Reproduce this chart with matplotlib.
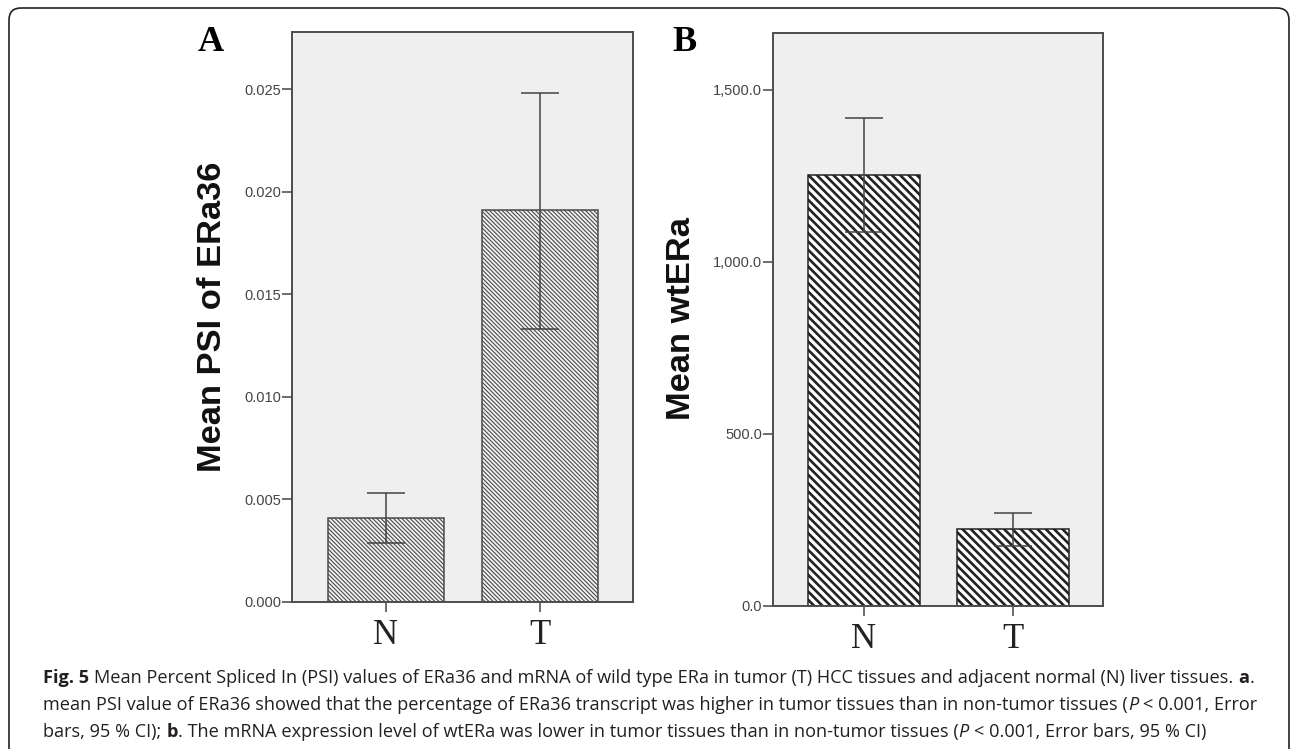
import matplotlib as mpl
import matplotlib.pyplot as plt
from matplotlib import font_manager
from matplotlib.patches import FancyBboxPatch
from matplotlib.transforms import IdentityTransform

# data
groups = ['N', 'T']
psi_mean = [0.0041, 0.0191]
psi_low = [0.00285, 0.0133]
psi_high = [0.0053, 0.0248]
wt_mean = [1252, 222]
wt_low = [1087, 174]
wt_high = [1418, 270]
psi_ticks = [0.000, 0.005, 0.010, 0.015, 0.020, 0.025]
wt_ticks = [0, 500, 1000, 1500]

W, H = 1290, 749
fig = plt.figure(figsize=(W / 100, H / 100), dpi=100)

names = {f.name for f in font_manager.fontManager.ttflist}
tick_font = 'Liberation Sans Narrow' if 'Liberation Sans Narrow' in names else 'Liberation Sans'


def fx(x):
    return x / W


def fy(y):
    return 1 - y / H


def panel(rect, means, low, high, ymax, ticks, fmt, hatch, hatch_lw, edge, face):
    mpl.rcParams['hatch.linewidth'] = hatch_lw
    ax = fig.add_axes(rect)
    ax.set_facecolor('#efefef')
    x = list(range(len(groups)))
    bars = ax.bar(x, means, width=0.754, facecolor=face, edgecolor=edge,
                  linewidth=1.1, hatch=hatch, zorder=2)
    for b in bars:
        if hasattr(b, 'set_hatch_linewidth'):
            b.set_hatch_linewidth(hatch_lw)
    yerr = [[m - l for m, l in zip(means, low)], [h - m for m, h in zip(means, high)]]
    ax.errorbar(x, means, yerr=yerr, fmt='none', ecolor='#444444',
                elinewidth=1.1, capsize=13.5, capthick=1.1, zorder=3)
    ax.set_xlim(-0.607, 1.607)
    ax.set_ylim(0, ymax)
    ax.set_yticks(ticks)
    ax.set_yticklabels([fmt(t) for t in ticks], fontfamily=tick_font,
                       fontsize=10.5, color='#444444')
    ax.set_xticks(x)
    ax.set_xticklabels(groups, fontfamily='Liberation Serif', fontsize=25,
                       color='#222222')
    ax.tick_params(axis='y', direction='out', length=7.2, width=1.1,
                   color='#444444', pad=1)
    ax.tick_params(axis='x', direction='out', length=7.2, width=1.1,
                   color='#444444', pad=5.6)
    for s in ax.spines.values():
        s.set_color('#4d4d4d')
        s.set_linewidth(1.4)
    return ax


axA = panel([fx(292.3), fy(601.7), fx(633 - 292.3), (601.7 - 32.3) / H],
            psi_mean, psi_low, psi_high, 0.02778, psi_ticks,
            lambda v: '%.3f' % v, '\\' * 8, 0.8, '#4a4a4a', '#f2f2f2')
axB = panel([fx(773.3), fy(605.7), fx(1103.3 - 773.3), (605.7 - 33.3) / H],
            wt_mean, wt_low, wt_high, 1664, wt_ticks,
            lambda v: '{:,.1f}'.format(v), '\\' * 4, 1.9, '#222222', 'white')

# axis titles and panel letters
fig.text(fx(212.5), fy(317), 'Mean PSI of ERa36', rotation=90, ha='center',
         va='center', fontfamily='Liberation Sans', fontweight='bold',
         fontsize=24.8, color='#111111')
fig.text(fx(682), fy(318.5), 'Mean wtERa', rotation=90, ha='center',
         va='center', fontfamily='Liberation Sans', fontweight='bold',
         fontsize=24.8, color='#111111')
fig.text(fx(210.5), fy(51), 'A', ha='center', va='baseline',
         fontfamily='Liberation Serif', fontweight='bold', fontsize=26)
fig.text(fx(684.5), fy(51), 'B', ha='center', va='baseline',
         fontfamily='Liberation Serif', fontweight='bold', fontsize=26)

# rounded border around the figure
border = FancyBboxPatch((9, -12), 1280, 753,
                        boxstyle='round,pad=0,rounding_size=12',
                        transform=IdentityTransform(), fill=False,
                        edgecolor='#222222', linewidth=1.2)
fig.add_artist(border)

# caption with mixed styles
cap_size = 13.05
cap_color = '#231f20'
renderer = fig.canvas.get_renderer()


def text_w(s, **kw):
    t = fig.text(0, 0, s, fontfamily='Open Sans', fontsize=cap_size, **kw)
    w = t.get_window_extent(renderer).width
    t.remove()
    return w


space_w = text_w('a a') - text_w('aa')


def runs_line(x0, ybase, runs):
    x = x0
    for s, style in runs:
        kw = {}
        if style == 'b':
            kw['fontweight'] = 'bold'
        elif style == 'i':
            kw['fontstyle'] = 'italic'
        lead = len(s) - len(s.lstrip(' '))
        trail = len(s) - len(s.rstrip(' '))
        x += lead * space_w
        t = fig.text(fx(x), fy(ybase), s.strip(' '), ha='left', va='baseline',
                     fontfamily='Open Sans', fontsize=cap_size, color=cap_color, **kw)
        x += t.get_window_extent(renderer).width + trail * space_w


runs_line(43.3, 682.7, [
    ('Fig. 5', 'b'),
    (' Mean Percent Spliced In (PSI) values of ERa36 and mRNA of wild type ERa in '
     'tumor (T) HCC tissues and adjacent normal (N) liver tissues. ', 'n'),
    ('a', 'b'), ('.', 'n')])
runs_line(43.3, 709.7, [
    ('mean PSI value of ERa36 showed that the percentage of ERa36 transcript was '
     'higher in tumor tissues than in non-tumor tissues (', 'n'),
    ('P', 'i'), (' < 0.001, Error', 'n')])
runs_line(43.3, 736.7, [
    ('bars, 95 % CI); ', 'n'), ('b', 'b'),
    ('. The mRNA expression level of wtERa was lower in tumor tissues than in '
     'non-tumor tissues (', 'n'),
    ('P', 'i'), (' < 0.001, Error bars, 95 % CI)', 'n')])

fig.savefig('out.png', dpi=100)
